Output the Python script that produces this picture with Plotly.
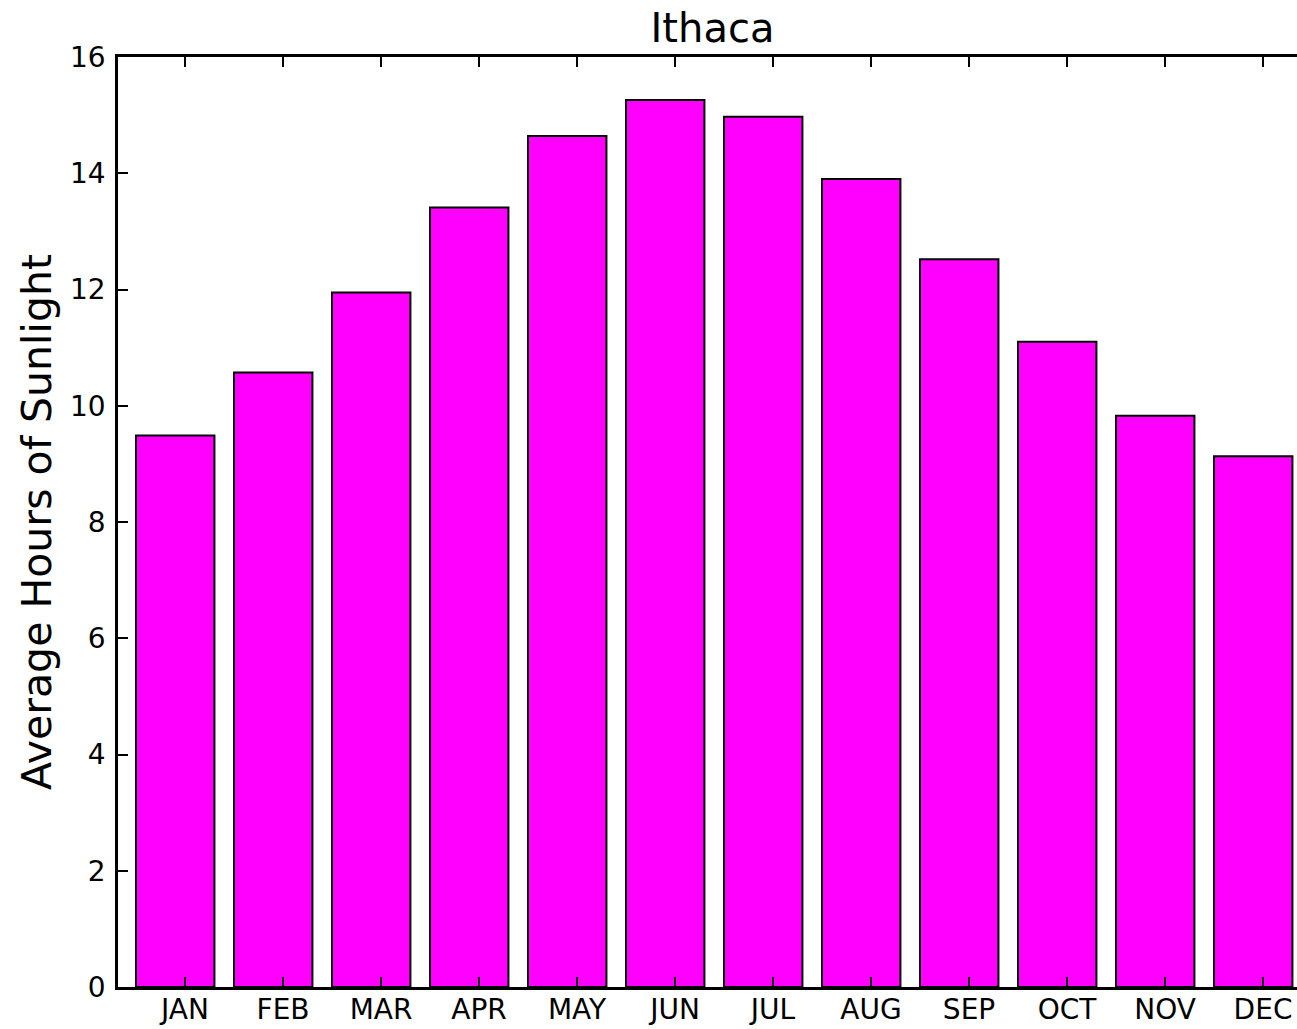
import plotly.graph_objects as go

# Average daily hours of sunlight in Ithaca, by month
months = ["JAN", "FEB", "MAR", "APR", "MAY", "JUN",
          "JUL", "AUG", "SEP", "OCT", "NOV", "DEC"]
hours = [9.49, 10.57, 11.95, 13.41, 14.64, 15.26,
         14.97, 13.90, 12.52, 11.10, 9.83, 9.13]
y_ticks = [0, 2, 4, 6, 8, 10, 12, 14, 16]

# bars start at their index and are 0.8 wide; labels sit at index + 0.5
bar_left = list(range(len(months)))
tick_pos = [i + 0.5 for i in bar_left]

FONT = "DejaVu Sans"
W, H = 1297, 1029
L, T, B = 118, 57, 42

fig = go.Figure(
    go.Bar(
        x=bar_left,
        y=hours,
        width=0.8,
        offset=0,
        marker=dict(color="#FF00FF", line=dict(color="black", width=2)),
    )
)

fig.update_layout(
    width=W,
    height=H,
    margin=dict(l=L, r=0, t=T, b=B, pad=0),
    paper_bgcolor="white",
    plot_bgcolor="white",
    showlegend=False,
    font=dict(family=FONT, color="black", size=28),
    title=dict(
        text="Ithaca",
        font=dict(family=FONT, size=40, color="black"),
        xref="container",
        yref="container",
        x=712.5 / W,
        y=1 - 28 / H,
        xanchor="center",
        yanchor="middle",
    ),
    annotations=[
        dict(
            text="Average Hours of Sunlight",
            textangle=-90,
            xref="paper",
            yref="paper",
            x=(37 - L) / (W - L),
            y=0.5,
            xanchor="center",
            yanchor="middle",
            showarrow=False,
            font=dict(family=FONT, size=41, color="black"),
        )
    ],
)

fig.update_xaxes(
    range=[-0.184, -0.184 + (W - L) / 98.0],
    tickmode="array",
    tickvals=tick_pos,
    ticktext=months,
    ticks="inside",
    ticklen=10,
    tickwidth=1.5,
    tickcolor="black",
    showline=True,
    linecolor="black",
    linewidth=2.5,
    mirror="allticks",
    showgrid=False,
    zeroline=False,
    automargin=False,
    ticklabelstandoff=-4,
)

fig.update_yaxes(
    range=[0, 16],
    tickmode="array",
    tickvals=y_ticks,
    ticktext=[str(v) for v in y_ticks],
    ticks="inside",
    ticklen=10,
    tickwidth=1.5,
    tickcolor="black",
    showline=True,
    linecolor="black",
    linewidth=2.5,
    mirror=False,
    showgrid=False,
    zeroline=False,
    automargin=False,
    ticklabelstandoff=4,
)

fig.write_html("out.html")
